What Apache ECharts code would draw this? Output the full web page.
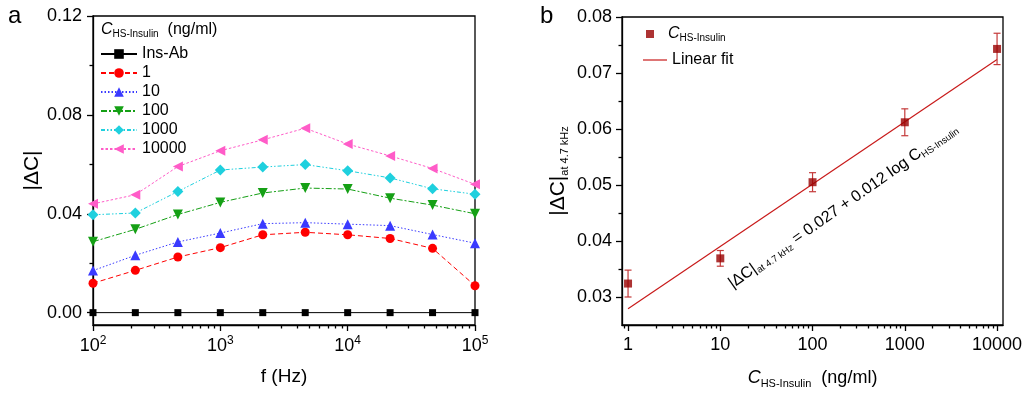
<!DOCTYPE html>
<html><head><meta charset="utf-8">
<script src="https://cdn.jsdelivr.net/npm/echarts@6/dist/echarts.min.js"></script>
<style>html,body{margin:0;padding:0;background:#fff}#c{width:1024px;height:395px}</style>
</head><body><div id="c"></div>
<script>
// ---- Panel a data ----
const freqs = [100, 215, 464, 1000, 2154, 4642, 10000, 21544, 46416, 100000];
const seriesNames = ['Ins-Ab', '1', '10', '100', '1000', '10000'];
const insAb  = [0, 0, 0, 0, 0, 0, 0, 0, 0, 0];
const c1     = [0.0119, 0.0171, 0.0225, 0.0263, 0.0315, 0.0325, 0.0315, 0.0300, 0.0260, 0.0109];
const c10    = [0.0170, 0.0232, 0.0286, 0.0322, 0.0360, 0.0364, 0.0358, 0.0352, 0.0316, 0.0281];
const c100   = [0.0287, 0.0337, 0.0397, 0.0446, 0.0484, 0.0504, 0.0500, 0.0463, 0.0435, 0.0400];
const c1000  = [0.0396, 0.0403, 0.0490, 0.0577, 0.0589, 0.0599, 0.0574, 0.0545, 0.0501, 0.0479];
const c10000 = [0.0440, 0.0477, 0.0591, 0.0655, 0.0699, 0.0746, 0.0682, 0.0634, 0.0583, 0.0519];
const leftYTicks = [0, 0.04, 0.08, 0.12];
const leftYMinor = [0.02, 0.06, 0.10];
const leftXTicks = [100, 1000, 10000, 100000];

// ---- Panel b data ----
const concs = [1, 10, 100, 1000, 10000];
const dC47 = [0.0324, 0.0369, 0.0505, 0.0612, 0.0743];
const dC47Err = [0.0024, 0.0014, 0.0017, 0.0024, 0.0028];
const fitX = [1, 10000];
const fitY = [0.0279, 0.0724];
const rightYTicks = [0.03, 0.04, 0.05, 0.06, 0.07, 0.08];
const rightYMinor = [0.035, 0.045, 0.055, 0.065, 0.075];
const rightXTicks = [1, 10, 100, 1000, 10000];

function minorLog(decades) {
  const out = [];
  decades.forEach(d => { for (let k = 2; k <= 9; k++) out.push(d * k); });
  return out;
}
const leftXMinor = minorLog([100, 1000, 10000]);
const rightXMinor = [0.9].concat(minorLog([1, 10, 100, 1000]));

const FONT = '"Liberation Sans", Arial, Helvetica, sans-serif';
const AX = '#000';
const LW = 1.3;

const styles = [
  { color: '#000000', symbol: 'rect', size: 7, rot: 0, dash: 'solid' },
  { color: '#ff0000', symbol: 'circle', size: 9, rot: 0, dash: [5, 3] },
  { color: '#3a3aff', symbol: 'triangle', size: 10, rot: 0, dash: [1.5, 2] },
  { color: '#15a015', symbol: 'triangle', size: 10, rot: 180, dash: [6, 2, 2, 2] },
  { color: '#1fd0de', symbol: 'diamond', size: 11, rot: 0, dash: [4, 2, 1.5, 2, 1.5, 2] },
  { color: '#ff5cc8', symbol: 'triangle', size: 10, rot: 90, dash: [2.5, 2] }
];
const leftData = [insAb, c1, c10, c100, c1000, c10000];

const supRich = {
  b: { fontSize: 18, fontFamily: FONT, color: '#000', lineHeight: 22 },
  s: { fontSize: 12, fontFamily: FONT, color: '#000', verticalAlign: 'top', lineHeight: 14 }
};
const subRich = {
  c: { fontSize: 18, fontStyle: 'italic', fontFamily: FONT, color: '#000', lineHeight: 22 },
  s: { fontSize: 11, fontFamily: FONT, color: '#000', verticalAlign: 'bottom', lineHeight: 12 },
  n: { fontSize: 18, fontFamily: FONT, color: '#000', lineHeight: 22 }
};

// tick-only helper axes (drawn through the library's scales)
function tickX(grid, type, min, max, vals, len) {
  return {
    gridIndex: grid, type: type, logBase: 10, min: min, max: max, position: 'bottom', offset: 0,
    axisLine: { show: false, onZero: false },
    axisTick: { show: true, customValues: vals, length: len, lineStyle: { color: AX, width: LW } },
    axisLabel: { show: false }, splitLine: { show: false }
  };
}
function tickY(grid, min, max, vals, len) {
  return {
    gridIndex: grid, type: 'value', min: min, max: max, position: 'left', offset: 0,
    axisLine: { show: false, onZero: false },
    axisTick: { show: true, customValues: vals, length: len, lineStyle: { color: AX, width: LW } },
    axisLabel: { show: false }, splitLine: { show: false }
  };
}

const chart = echarts.init(document.getElementById('c'), null, { renderer: 'canvas' });

const leftSeries = leftData.map((arr, i) => ({
  name: seriesNames[i],
  type: 'line',
  xAxisIndex: 0, yAxisIndex: 0,
  data: freqs.map((f, j) => [f, arr[j]]),
  symbol: styles[i].symbol,
  symbolSize: styles[i].size,
  symbolRotate: styles[i].rot,
  lineStyle: { color: styles[i].color, width: 1, type: styles[i].dash },
  itemStyle: { color: styles[i].color },
  z: 3 + i
}));

const option = {
  animation: false,
  backgroundColor: '#fff',
  textStyle: { fontFamily: FONT },
  grid: [
    { left: 93, top: 16, width: 382, height: 309, show: true, borderColor: AX, borderWidth: LW, outerBoundsMode: 'none' },
    { left: 622, top: 17, width: 381, height: 308, show: true, borderColor: AX, borderWidth: LW, outerBoundsMode: 'none' }
  ],
  legend: [
    {
      data: seriesNames,
      orient: 'vertical', left: 95, top: 41,
      itemWidth: 36, itemHeight: 12, itemGap: 3, itemTextGap: 5,
      textStyle: { fontSize: 16, color: '#000', fontFamily: FONT },
      selectedMode: false
    },
    {
      data: ['CHS'],
      orient: 'vertical', left: 641, top: 21,
      itemWidth: 8, itemHeight: 8, itemTextGap: 5,
      formatter: () => '{c|C}{s|HS-Insulin}',
      textStyle: {
        fontSize: 16, color: '#000', fontFamily: FONT,
        rich: {
          c: { fontSize: 16, fontStyle: 'italic', fontFamily: FONT, color: '#000', lineHeight: 18, padding: [0, 0, 0, 9] },
          s: { fontSize: 10, fontFamily: FONT, color: '#000', verticalAlign: 'bottom', lineHeight: 10 }
        }
      },
      selectedMode: false
    },
    {
      data: [{ name: 'Linear fit', icon: 'rect' }],
      orient: 'vertical', left: 638, top: 47,
      itemWidth: 24, itemHeight: 1.2, itemTextGap: 2,
      textStyle: { fontSize: 16, color: '#000', fontFamily: FONT },
      selectedMode: false
    }
  ],
  xAxis: [
    {
      gridIndex: 0, type: 'log', logBase: 10, min: 100, max: 100000, position: 'bottom',
      name: 'f (Hz)', nameLocation: 'middle', nameGap: 42,
      nameTextStyle: { fontSize: 19, color: '#000', fontFamily: FONT },
      axisLine: { onZero: false, lineStyle: { color: AX, width: LW } },
      axisTick: { show: false },
      axisLabel: {
        customValues: leftXTicks, margin: 10, color: '#000',
        formatter: v => '{b|10}{s|' + Math.round(Math.log10(v)) + '}',
        rich: supRich
      },
      splitLine: { show: false }
    },
    tickX(0, 'log', 100, 100000, leftXTicks, 6),
    tickX(0, 'log', 100, 100000, leftXMinor, 3.5),
    {
      gridIndex: 1, type: 'log', logBase: 10, min: 0.86, max: 11600, position: 'bottom',
      name: '{c|C}{s|HS-Insulin}{n|  (ng/ml)}', nameLocation: 'middle', nameGap: 42,
      nameTextStyle: { rich: subRich },
      axisLine: { onZero: false, lineStyle: { color: AX, width: LW } },
      axisTick: { show: false },
      axisLabel: {
        customValues: rightXTicks, margin: 11, color: '#000', fontSize: 18, fontFamily: FONT,
        formatter: v => String(Math.round(v))
      },
      splitLine: { show: false }
    },
    tickX(1, 'log', 0.86, 11600, rightXTicks, 6),
    tickX(1, 'log', 0.86, 11600, rightXMinor, 3.5)
  ],
  yAxis: [
    {
      gridIndex: 0, type: 'value', min: -0.005, max: 0.12, position: 'left',
      name: '|ΔC|', nameLocation: 'middle', nameGap: 48,
      nameTextStyle: { fontSize: 21, color: '#000', fontFamily: FONT },
      axisLine: { onZero: false, lineStyle: { color: AX, width: LW } },
      axisTick: { show: false },
      axisLabel: {
        customValues: leftYTicks, margin: 11, color: '#000', fontSize: 18, fontFamily: FONT,
        formatter: v => v.toFixed(2)
      },
      splitLine: { show: false }
    },
    tickY(0, -0.005, 0.12, leftYTicks, 6),
    tickY(0, -0.005, 0.12, leftYMinor, 3.5),
    {
      gridIndex: 1, type: 'value', min: 0.025, max: 0.08, position: 'left',
      name: '{m||ΔC|}{s|at 4.7 kHz}', nameLocation: 'middle', nameGap: 52,
      nameTextStyle: {
        rich: {
          m: { fontSize: 21, fontFamily: FONT, color: '#000', lineHeight: 24 },
          s: { fontSize: 11, fontFamily: FONT, color: '#000', verticalAlign: 'bottom', lineHeight: 12 }
        }
      },
      axisLine: { onZero: false, lineStyle: { color: AX, width: LW } },
      axisTick: { show: false },
      axisLabel: {
        customValues: rightYTicks, margin: 10, color: '#000', fontSize: 18, fontFamily: FONT,
        formatter: v => v.toFixed(2)
      },
      splitLine: { show: false }
    },
    tickY(1, 0.025, 0.08, rightYTicks, 6),
    tickY(1, 0.025, 0.08, rightYMinor, 3.5)
  ],
  series: leftSeries.concat([
    {
      name: 'Linear fit', type: 'line', xAxisIndex: 3, yAxisIndex: 3,
      data: fitX.map((x, i) => [x, fitY[i]]),
      symbol: 'none',
      lineStyle: { color: '#c81a1a', width: 1.2 },
      itemStyle: { color: '#c81a1a' },
      z: 2
    },
    {
      name: 'errbars', type: 'custom', xAxisIndex: 3, yAxisIndex: 3,
      data: concs.map((c, i) => [c, dC47[i], dC47Err[i]]),
      encode: { x: 0, y: 1 },
      renderItem: (params, api) => {
        const x = api.value(0), y = api.value(1), e = api.value(2);
        const t = api.coord([x, y + e]), b = api.coord([x, y - e]);
        const w = 3.5;
        const st = { stroke: '#c43a3a', lineWidth: 1.2 };
        return {
          type: 'group', children: [
            { type: 'line', shape: { x1: t[0], y1: t[1], x2: b[0], y2: b[1] }, style: st },
            { type: 'line', shape: { x1: t[0] - w, y1: t[1], x2: t[0] + w, y2: t[1] }, style: st },
            { type: 'line', shape: { x1: b[0] - w, y1: b[1], x2: b[0] + w, y2: b[1] }, style: st }
          ]
        };
      },
      z: 3
    },
    {
      name: 'CHS', type: 'scatter', xAxisIndex: 3, yAxisIndex: 3,
      data: concs.map((c, i) => [c, dC47[i]]),
      symbol: 'rect', symbolSize: 8,
      itemStyle: { color: '#990000' },
      z: 4
    }
  ]),
  graphic: [
    { type: 'text', left: 8, top: 4, style: { text: 'a', fontSize: 24, fontFamily: FONT, fill: '#000' } },
    { type: 'text', left: 540, top: 4, style: { text: 'b', fontSize: 24, fontFamily: FONT, fill: '#000' } },
    {
      type: 'text', left: 101, top: 22,
      style: {
        text: '{c|C}{s|HS-Insulin}{n|  (ng/ml)}',
        rich: {
          c: { fontSize: 16, fontStyle: 'italic', fontFamily: FONT, fill: '#000', lineHeight: 18 },
          s: { fontSize: 10, fontFamily: FONT, fill: '#000', verticalAlign: 'bottom', lineHeight: 10 },
          n: { fontSize: 16, fontFamily: FONT, fill: '#000', lineHeight: 18 }
        }
      }
    },
    {
      type: 'text', x: 843, y: 206, rotation: 35 * Math.PI / 180,
      style: {
        text: '{m||ΔC|}{s|at 4.7 kHz}{m| = 0.027 + 0.012 log C}{s|HS-Insulin}',
        align: 'center', verticalAlign: 'middle',
        rich: {
          m: { fontSize: 16, fontFamily: FONT, fill: '#000', lineHeight: 19 },
          s: { fontSize: 9.5, fontFamily: FONT, fill: '#000', verticalAlign: 'bottom', lineHeight: 10 }
        }
      }
    }
  ]
};
chart.setOption(option);
</script></body></html>
